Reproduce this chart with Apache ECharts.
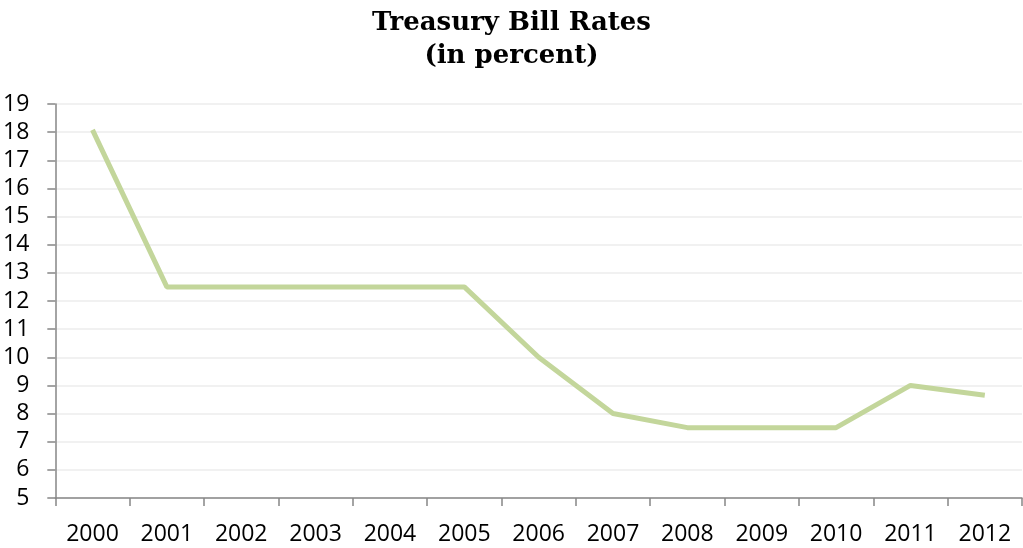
<!DOCTYPE html>
<html><head><meta charset="utf-8">
<script src="https://cdn.jsdelivr.net/npm/echarts@6/dist/echarts.min.js"></script>
<style>html,body{margin:0;padding:0;background:#fff}#c{width:1023px;height:548px}</style>
</head><body><div id="c"></div>
<script>
const titleText = 'Treasury Bill Rates\n(in percent)';
const years = ['2000','2001','2002','2003','2004','2005','2006','2007','2008','2009','2010','2011','2012'];
const rates = [18.08, 12.5, 12.5, 12.5, 12.5, 12.5, 10.0, 8.0, 7.5, 7.5, 7.5, 9.0, 8.65];

const chart = echarts.init(document.getElementById('c'), null, {renderer: 'canvas'});
chart.setOption({
  animation: false,
  backgroundColor: '#ffffff',
  title: {
    text: titleText,
    left: 'center',
    top: 2,
    textStyle: {fontFamily: 'DejaVu Serif', fontWeight: 'bold', fontSize: 26, lineHeight: 33, color: '#000'}
  },
  grid: {left: 53, right: 1, top: 104, bottom: 50, containLabel: false},
  xAxis: {
    type: 'category',
    data: years,
    boundaryGap: true,
    axisLine: {lineStyle: {color: '#868686', width: 1.5}},
    axisTick: {show: true, length: 8, lineStyle: {color: '#868686', width: 1.5}},
    axisLabel: {fontFamily: 'Open Sans', fontSize: 23, color: '#000', margin: 25},
    splitLine: {show: false}
  },
  yAxis: {
    type: 'value',
    min: 5, max: 19, interval: 1,
    axisLine: {show: true, lineStyle: {color: '#868686', width: 1.5}},
    axisTick: {show: true, length: 8, lineStyle: {color: '#868686', width: 1.5}},
    axisLabel: {fontFamily: 'Open Sans', fontSize: 23, color: '#000', margin: 26},
    splitLine: {show: true, lineStyle: {color: '#ececec', width: 1.5}}
  },
  series: [{
    type: 'line',
    data: rates,
    symbol: 'none',
    lineStyle: {color: '#c3d69b', width: 5},
    itemStyle: {color: '#c3d69b'}
  }]
});
</script></body></html>
